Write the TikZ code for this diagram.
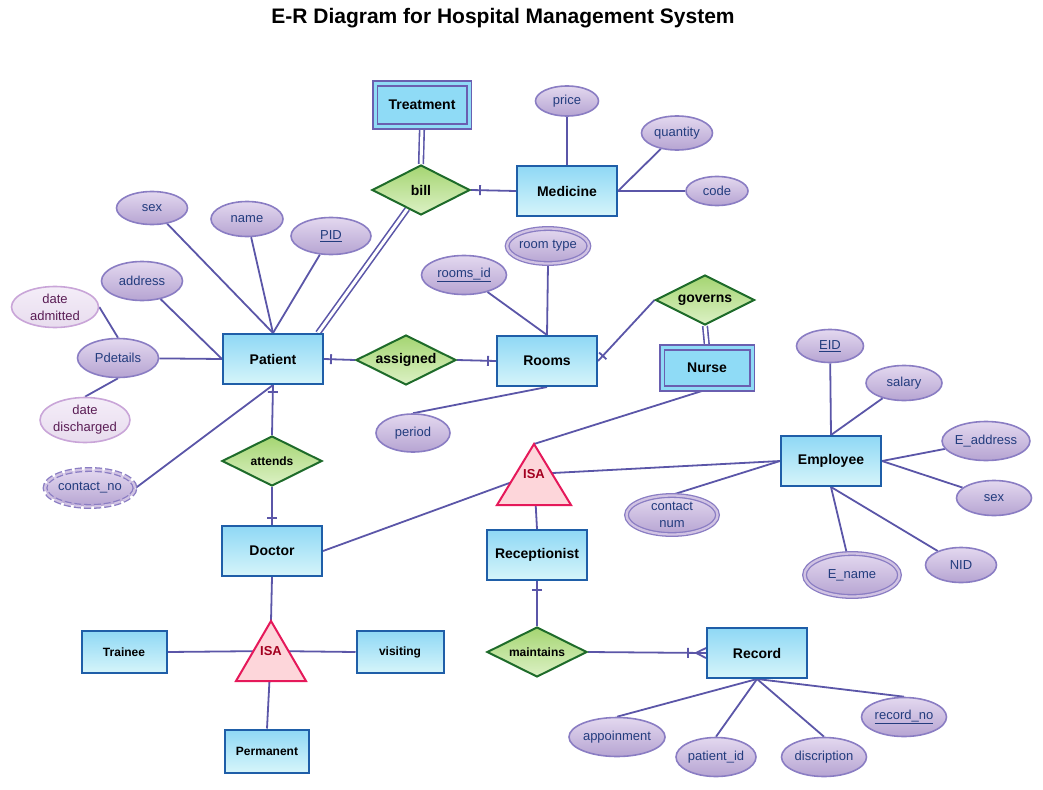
\documentclass[tikz,border=0pt]{standalone}
\usepackage{fontspec}
\setmainfont{Liberation Sans}
\usepackage{tikz}
\usetikzlibrary{shapes.geometric}
\usetikzlibrary{backgrounds}
\usetikzlibrary{decorations.markings}

\definecolor{linec}{HTML}{5B56A8}
\definecolor{enttop}{HTML}{8FD8F5}
\definecolor{entbot}{HTML}{D6F5FA}
\definecolor{entborder}{HTML}{1F5EA8}
\definecolor{weakfill}{HTML}{8FDBF6}
\definecolor{weakborder}{HTML}{6A5FB0}
\definecolor{reltop}{HTML}{A5D572}
\definecolor{relbot}{HTML}{DCF1C5}
\definecolor{relborder}{HTML}{1E6B2A}
\definecolor{atttop}{HTML}{E3D8EF}
\definecolor{attbot}{HTML}{B6A4D2}
\definecolor{attborder}{HTML}{8A7DC3}
\definecolor{atttext}{HTML}{233C7E}
\definecolor{lighttop}{HTML}{F4EDF8}
\definecolor{lightbot}{HTML}{E8DCEE}
\definecolor{lightborder}{HTML}{C9A5D8}
\definecolor{lighttext}{HTML}{5A1D55}
\definecolor{isafill}{HTML}{FDD6DA}
\definecolor{isaborder}{HTML}{E5195A}
\definecolor{isared}{HTML}{A3001F}

\tikzset{
  sz/.style 2 args={minimum width=#1, minimum height=#2},
  entity/.style={rectangle, draw=entborder, line width=2pt, top color=enttop, bottom color=entbot,
    inner sep=0pt, minimum width=100, minimum height=50, font=\fontsize{14}{16}\selectfont\bfseries},
  subentity/.style={entity, font=\fontsize{12}{14}\selectfont\bfseries},
  weakentity/.style={rectangle, draw=weakborder, line width=1.8pt, double=weakfill, double distance=3pt,
    fill=weakfill, inner sep=0pt, font=\fontsize{14}{16}\selectfont\bfseries},
  relation/.style={diamond, aspect=2, draw=relborder, line width=2pt, top color=reltop, bottom color=relbot,
    inner sep=0pt, minimum width=100, minimum height=50, font=\fontsize{14}{16}\selectfont\bfseries},
  smallrel/.style={relation, font=\fontsize{12}{14}\selectfont\bfseries},
  attr/.style={ellipse, draw=attborder, line width=1.6pt, top color=atttop, bottom color=attbot,
    inner sep=0pt, text=atttext, align=center, font=\fontsize{13}{17}\selectfont},
  multiattr/.style={attr, line width=1.3pt, double=atttop!60!attbot, double distance=2.3pt},
  derivedattr/.style={multiattr, dash pattern=on 7pt off 3pt},
  lightattr/.style={attr, draw=lightborder, top color=lighttop, bottom color=lightbot, text=lighttext},
  isatri/.style={draw=isaborder, line width=2pt, fill=isafill, line join=miter},
  isatext/.style={inner sep=0pt, text=isared, font=\fontsize{13}{15}\selectfont\bfseries},
  conn/.style={draw=linec, line width=1.8pt},
  dline/.style={conn, line width=1.6pt, double=white, double distance=3pt},
  tickat/.style={postaction={decorate, decoration={markings, mark=at position #1 with
    {\draw[linec, line width=1.8pt] (0,-5) -- (0,5);}}}},
  crowend/.style={postaction={decorate, decoration={markings, mark=at position -10pt with
    {\draw[linec, line width=1.8pt] (10,-5) -- (0,0) -- (10,5);}}}},
  title/.style={inner sep=0pt, font=\fontsize{21}{24}\selectfont\bfseries}
}

\begin{document}
\begin{tikzpicture}[x=1pt, y=-1pt]
\useasboundingbox (0,0) rectangle (1043,789);

\node[title] (title) at (503,18) {E-R Diagram for Hospital Management System};

% entities
\node[weakentity, sz={94}{43}] (treatment) at (422,105) {Treatment};
\node[entity] (medicine) at (567,191) {Medicine};
\node[entity] (patient) at (273,359) {Patient};
\node[entity] (rooms) at (547,361) {Rooms};
\node[weakentity, sz={90}{41}] (nurse) at (707,368) {Nurse};
\node[entity] (employee) at (831,461) {Employee};
\node[entity] (doctor) at (272,551) {Doctor};
\node[entity] (receptionist) at (537,555) {Receptionist};
\node[subentity, sz={85}{42}] (trainee) at (124,652) {Trainee};
\node[subentity, sz={87}{42}] (visiting) at (400,652) {visiting};
\node[subentity, sz={84}{43}] (permanent) at (267,751) {Permanent};
\node[entity] (record) at (757,653) {Record};

% relationships
\node[relation, sz={98}{50}] (bill) at (421,190) {bill};
\node[relation] (assigned) at (406,360) {assigned};
\node[relation, sz={99}{50}] (governs) at (705,300) {governs};
\node[smallrel] (attends) at (272,461) {attends};
\node[smallrel] (maintains) at (537,652) {maintains};

% isa
\draw[isatri] (534,444) -- (571,505) -- (497,505) -- cycle;
\coordinate (isa1top) at (534,444);
\node[isatext] (isa1) at (534,474) {ISA};
\draw[isatri] (271,621) -- (306,681) -- (236,681) -- cycle;
\coordinate (isa2top) at (271,621);
\node[isatext] (isa2) at (271,651) {ISA};

% attributes
\node[attr, sz={63}{30}] (price) at (567,101) {price};
\node[attr, sz={71}{34}] (quantity) at (677,133) {quantity};
\node[attr, sz={62}{29}] (code) at (717,191) {code};
\node[attr, sz={71}{33}] (psex) at (152,208) {sex};
\node[attr, sz={72}{35}] (pname) at (247,219) {name};
\node[attr, sz={80}{37}] (pid) at (331,236) {\underline{PID}};
\node[attr, sz={81}{39}] (paddress) at (142,281) {address};
\node[lightattr, sz={87}{41}] (dateadm) at (55,307) {date\\admitted};
\node[attr, sz={81}{39}] (pdetails) at (118,358) {Pdetails};
\node[lightattr, sz={87}{45}] (datedis) at (85,420) {date\\discharged};
\node[derivedattr, sz={83}{37}] (contactno) at (90,488) {contact\_no};
\node[attr, sz={85}{39}] (roomsid) at (464,275) {\underline{rooms\_id}};
\node[multiattr, sz={81}{35}] (roomtype) at (548,246) {room type};
\node[attr, sz={74}{38}] (period) at (413,433) {period};
\node[attr, sz={67}{33}] (eid) at (830,346) {\underline{EID}};
\node[attr, sz={76}{35}] (salary) at (904,383) {salary};
\node[attr, sz={80}{39}] (eaddress) at (986,441) {E\_address};
\node[attr, sz={75}{35}] (esex) at (994,498) {sex};
\node[attr, sz={71}{35}] (nid) at (961,565) {NID};
\node[multiattr, sz={95}{43}] (ename) at (852,575) {E\_name};
\node[multiattr, sz={91}{39}] (contactnum) at (672,515) {contact\\num};
\node[attr, sz={90}{39}] (appoin) at (617,737) {appoinment};
\node[attr, sz={80}{39}] (patientid) at (716,757) {patient\_id};
\node[attr, sz={85}{39}] (discrip) at (824,757) {discription};
\node[attr, sz={85}{39}] (recordno) at (904,717) {\underline{record\_no}};

% connectors
\begin{scope}[on background layer]
\draw[dline] (treatment.south) -- (bill.north);
\draw[conn, tickat=9pt] (bill.east) -- (medicine.west);
\draw[dline] (bill) -- ([xshift=-6]patient.north east);
\draw[conn] (medicine.north) -- (price);
\draw[conn] (medicine.east) -- (quantity);
\draw[conn] (medicine.east) -- (code);

\draw[conn] (patient.north) -- (psex);
\draw[conn] (patient.north) -- (pname);
\draw[conn] (patient.north) -- (pid);
\draw[conn] (patient.west) -- (paddress);
\draw[conn] (pdetails) -- (patient.west);
\draw[conn] (pdetails.north) -- (dateadm.east);
\draw[conn] (pdetails.south) -- (datedis.north);
\draw[conn] (patient.south) -- (contactno.east);
\draw[conn, tickat=7pt] (patient.east) -- (assigned.west);
\draw[conn, tickat=-8pt] (assigned.east) -- (rooms.west);
\draw[conn, tickat=7pt] (patient.south) -- (attends.north);
\draw[conn, tickat=-7pt] (attends.south) -- (doctor.north);

\draw[conn] (rooms.north) -- (roomsid);
\draw[conn] (rooms.north) -- (roomtype.south);
\draw[conn] (rooms.south) -- (period.north);
\draw[conn, tickat=7pt] (rooms.east) -- (governs.west);
\draw[dline] (governs.south) -- (nurse.north);

\draw[conn] (nurse.south) -- (isa1top);
\draw[conn] (doctor.east) -- (isa1);
\draw[conn] (employee.west) -- (isa1);
\draw[conn] (isa1) -- (receptionist.north);
\draw[conn] (employee.west) -- (contactnum.north);
\draw[conn] (employee.north) -- (eid);
\draw[conn] (employee.north) -- (salary);
\draw[conn] (employee.east) -- (eaddress);
\draw[conn] (employee.east) -- (esex);
\draw[conn] (employee.south) -- (ename);
\draw[conn] (employee.south) -- (nid);

\draw[conn] (doctor.south) -- (isa2top);
\draw[conn] (trainee.east) -- (isa2);
\draw[conn] (isa2) -- (visiting.west);
\draw[conn] (isa2) -- (permanent.north);

\draw[conn, tickat=9pt] (receptionist.south) -- (maintains.north);
\draw[conn, tickat=-18pt, crowend] (maintains.east) -- (record.west);
\draw[conn] (record.south) -- (appoin.north);
\draw[conn] (record.south) -- (patientid.north);
\draw[conn] (record.south) -- (discrip.north);
\draw[conn] (record.south) -- (recordno.north);
\end{scope}
\end{tikzpicture}
\end{document}
